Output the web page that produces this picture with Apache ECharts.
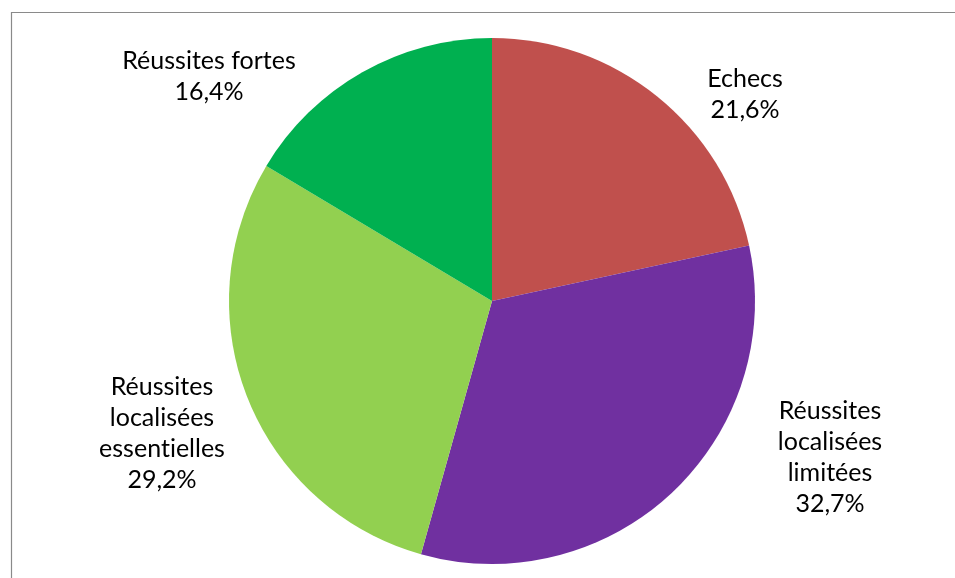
<!DOCTYPE html>
<html>
<head>
<meta charset="utf-8">
<script src="https://cdn.jsdelivr.net/npm/echarts@6/dist/echarts.min.js"></script>
<style>
  html, body { margin: 0; padding: 0; background: #fff; }
  #chart { width: 955px; height: 578px; }
</style>
</head>
<body>
<div id="chart"></div>
<script>
// Résultats par catégorie (en %)
// (\u200C keeps the "t"+"i" pair from being drawn as a ligature)
const categories = [
  'Echecs',
  'Réussites\nlocalisées\nlimitées',
  'Réussites\nlocalisées\nessent\u200Cielles',
  'Réussites fortes'
];
const values = [21.6, 32.7, 29.2, 16.4];
const valueLabels = ['21,6%', '32,7%', '29,2%', '16,4%'];
const colors = ['#C0504D', '#7030A0', '#92D050', '#00B050'];

// Label anchor offsets from the pie centre (px)
const labelOffsets = [
  [253, -207],
  [338, 156],
  [-330, 132],
  [-283, -225]
];

const CX = 492, CY = 301, R = 263;

const chart = echarts.init(document.getElementById('chart'), null, { renderer: 'canvas' });

chart.setOption({
  animation: false,
  backgroundColor: '#ffffff',
  graphic: [{
    type: 'rect',
    shape: { x: 11.5, y: 12.5, width: 1200, height: 1200 },
    style: { fill: 'none', stroke: '#8a8a8a', lineWidth: 1.2 },
    silent: true,
    z: -1
  }],
  series: [{
    type: 'pie',
    center: [CX, CY],
    radius: [0, R],
    startAngle: 90,
    clockwise: true,
    avoidLabelOverlap: false,
    itemStyle: { borderWidth: 0 },
    label: {
      show: true,
      position: 'outside',
      formatter: p => categories[p.dataIndex] + '\n' + valueLabels[p.dataIndex],
      fontFamily: 'Lato',
      fontSize: 25,
      lineHeight: 31,
      color: '#000000',
      align: 'center'
    },
    labelLine: { show: false },
    labelLayout: p => ({
      x: CX + labelOffsets[p.dataIndex][0],
      y: CY + labelOffsets[p.dataIndex][1],
      align: 'center',
      verticalAlign: 'middle'
    }),
    emphasis: { disabled: true },
    data: values.map((v, i) => ({
      name: categories[i],
      value: v,
      itemStyle: { color: colors[i] }
    }))
  }]
});
</script>
</body>
</html>
